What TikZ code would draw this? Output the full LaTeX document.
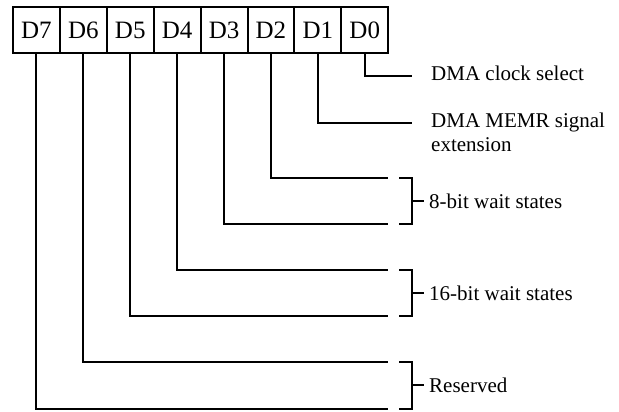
\documentclass[tikz,border=0pt]{standalone}
\usepackage{fontspec}
\setmainfont{Liberation Serif}
\begin{document}
\begin{tikzpicture}[x=1pt,y=-1pt,
  bit/.style={draw, line width=2pt, minimum width=46.9pt, minimum height=46pt,
              inner sep=0pt, anchor=north west, font=\fontsize{25}{25}\selectfont},
  lbl/.style={anchor=west, inner sep=0pt, align=left,
              font=\fontsize{21}{24}\selectfont},
  wire/.style={line width=2pt},
  brace/.style={line width=2pt}]
\useasboundingbox (0,0) rectangle (619,412);

% register bits
\node[bit] (b7) at (12.0,6)  {D7};
\node[bit] (b6) at (58.9,6)  {D6};
\node[bit] (b5) at (105.8,6) {D5};
\node[bit] (b4) at (152.7,6) {D4};
\node[bit] (b3) at (199.6,6) {D3};
\node[bit] (b2) at (246.5,6) {D2};
\node[bit] (b1) at (293.4,6) {D1};
\node[bit] (b0) at (340.3,6) {D0};

% wire ends
\coordinate (e0) at (412,76.5);
\coordinate (e1) at (412,122.5);
\coordinate (e2) at (388,178);
\coordinate (e3) at (388,224);
\coordinate (e4) at (388,270);
\coordinate (e5) at (388,316);
\coordinate (e6) at (388,362);
\coordinate (e7) at (388,408.5);

\foreach \i in {0,...,7}
  \draw[wire] (b\i.south) |- (e\i);

% brackets grouping bit pairs
\foreach \t/\b/\n in {178/224/w8, 270/316/w16, 362/408.5/rsv} {
  \draw[brace] (399,\t) -- (412,\t) -- (412,\b) -- (399,\b);
  \coordinate (\n) at (424,{(\t+\b)/2});
  \draw[brace] (411,{(\t+\b)/2}) -- (\n);
}

% field descriptions
\node[lbl, anchor=base west] (l0) at (431,81) {DMA clock select};
\node[lbl, anchor=north west] (l1) at (431,112.7) {DMA MEMR signal\\extension};
\node[lbl] (l2) at ([xshift=5pt]w8) {8-bit wait states};
\node[lbl] (l3) at ([xshift=5pt]w16) {16-bit wait states};
\node[lbl] (l4) at ([xshift=5pt]rsv) {Reserved};
\end{tikzpicture}
\end{document}
